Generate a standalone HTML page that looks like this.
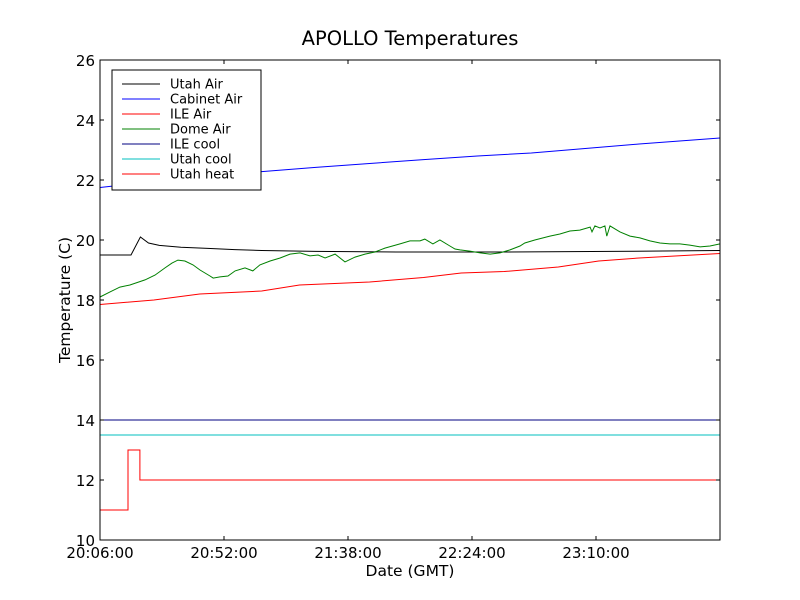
<!DOCTYPE html>
<html><head><meta charset="utf-8"><style>
body{margin:0;background:#fff}
svg{display:block;font-family:"DejaVu Sans","Liberation Sans",sans-serif}
</style></head><body>
<svg id="chart" width="800" height="600">
<rect width="800" height="600" fill="#fff"/>
<text x="410" y="45" font-size="19.5" text-anchor="middle">APOLLO Temperatures</text>
<text x="410" y="576" font-size="15.5" text-anchor="middle">Date (GMT)</text>
<text transform="translate(70,300) rotate(-90)" font-size="15.5" text-anchor="middle">Temperature (C)</text>
<g id="series"></g>
<g id="axes"></g>
</svg>
<script>
const xTickMinutes=[0,46,92,138,184];
const xTickLabels=["20:06:00","20:52:00","21:38:00","22:24:00","23:10:00"];
const yTicks=[10,12,14,16,18,20,22,24,26];
const seriesNames=["Utah Air","Cabinet Air","ILE Air","Dome Air","ILE cool","Utah cool","Utah heat"];
const seriesColors=["#000000","#0000ff","#ff0000","#008000","#000080","#00bfbf","#ff0000"];
const utahAirT=[0,11.5,15,18,22,30,40,50,60,80,110,150,190,230];
const utahAirV=[19.5,19.5,20.1,19.9,19.82,19.76,19.72,19.68,19.65,19.62,19.6,19.6,19.62,19.65];
const cabinetT=[0,20,40,60,80,100,120,140,160,180,200,230];
const cabinetV=[21.75,21.95,22.12,22.28,22.42,22.55,22.68,22.8,22.9,23.05,23.2,23.4];
const ileAirT=[0,20,37,60,74,100,120,134,150,170,185,200,230];
const ileAirV=[17.85,18.0,18.2,18.3,18.5,18.6,18.75,18.9,18.95,19.1,19.3,19.4,19.55];
const domeT=[0,3.7,7.4,11.1,16.7,20.4,24.1,26.7,28.9,31.5,34.5,37.1,40.8,42,44.5,47.5,50.1,53.8,56.7,59.3,63.1,66.8,70.5,74.2,77.9,80.9,83.5,87.2,90.9,94.6,98.3,102,105.7,111.3,115,118.7,120.5,123.5,126.1,129.8,131.7,133.5,137.2,141,144.7,148.4,152.1,155.8,157.6,161.3,166.9,170.6,174.3,178,181.8,182.5,183.6,185.5,187.3,188,189.2,192.9,196.6,200.3,204,207.7,211.4,215.1,218.8,222.6,226.3,230];
const domeV=[18.1,18.27,18.43,18.5,18.67,18.83,19.07,19.23,19.33,19.3,19.17,19.0,18.8,18.73,18.77,18.8,18.97,19.07,18.97,19.17,19.3,19.4,19.53,19.57,19.47,19.5,19.4,19.53,19.27,19.43,19.53,19.6,19.73,19.87,19.97,19.97,20.03,19.87,20.0,19.8,19.7,19.67,19.63,19.57,19.53,19.57,19.67,19.8,19.9,20.0,20.13,20.2,20.3,20.33,20.43,20.27,20.47,20.4,20.47,20.13,20.47,20.27,20.13,20.07,19.97,19.9,19.87,19.87,19.83,19.77,19.8,19.87,19.83];
const ileCoolT=[0,230];
const ileCoolV=[14,14];
const utahCoolT=[0,0,230];
const utahCoolV=[12.5,13.5,13.5];
const utahHeatT=[0,10.4,10.4,14.8,14.8,230];
const utahHeatV=[11,11,13,13,12,12];

const X0=100,X1=720,Y0=540,Y1=60,TMAX=230,VMIN=10,VMAX=26;
const xs=t=>X0+(t/TMAX)*(X1-X0);
const ys=v=>Y0-(v-VMIN)/(VMAX-VMIN)*(Y0-Y1);
const NS="http://www.w3.org/2000/svg";
const sg=document.getElementById('series');
const ag=document.getElementById('axes');
function line(T,V,color,name){
  const p=document.createElementNS(NS,'polyline');
  p.setAttribute('points',T.map((t,i)=>xs(t).toFixed(1)+','+ys(V[i]).toFixed(1)).join(' '));
  p.setAttribute('fill','none');p.setAttribute('stroke',color);p.setAttribute('stroke-width','1');
  
  
  sg.appendChild(p);
}
line(utahAirT,utahAirV,seriesColors[0],'utah-air-line');
line(cabinetT,cabinetV,seriesColors[1],'cabinet-air-line');
line(ileAirT,ileAirV,seriesColors[2],'ile-air-line');
line(domeT,domeV,seriesColors[3],'dome-air-line');
line(ileCoolT,ileCoolV,seriesColors[4],'ile-cool-line');
line(utahCoolT,utahCoolV,seriesColors[5],'utah-cool-line');
line(utahHeatT,utahHeatV,seriesColors[6],'utah-heat-line');

let h='<rect x="100" y="60" width="620" height="480" fill="none" stroke="#000" stroke-width="1"/>';
yTicks.forEach(v=>{const y=ys(v);
  h+=`<line x1="100" y1="${y}" x2="104" y2="${y}" stroke="#000"/><line x1="716" y1="${y}" x2="720" y2="${y}" stroke="#000"/>`;
  h+=`<text x="95" y="${y+6}" font-size="15" text-anchor="end">${v}</text>`;});
xTickMinutes.forEach((t,i)=>{const x=xs(t);
  h+=`<line x1="${x}" y1="540" x2="${x}" y2="536" stroke="#000"/><line x1="${x}" y1="60" x2="${x}" y2="64" stroke="#000"/>`;
  h+=`<text x="${x}" y="558" font-size="15" text-anchor="middle">${xTickLabels[i]}</text>`;});
h+='<g><rect x="112" y="70" width="149" height="120" fill="#fff" stroke="#000"/>';
seriesNames.forEach((n,i)=>{const y=84+i*15;
  h+=`<line x1="122" y1="${y}" x2="160" y2="${y}" stroke="${seriesColors[i]}"/><text x="170" y="${y+4.5}" font-size="13">${n}</text>`;});
h+='</g>';
ag.innerHTML=h;
</script>
</body></html>
